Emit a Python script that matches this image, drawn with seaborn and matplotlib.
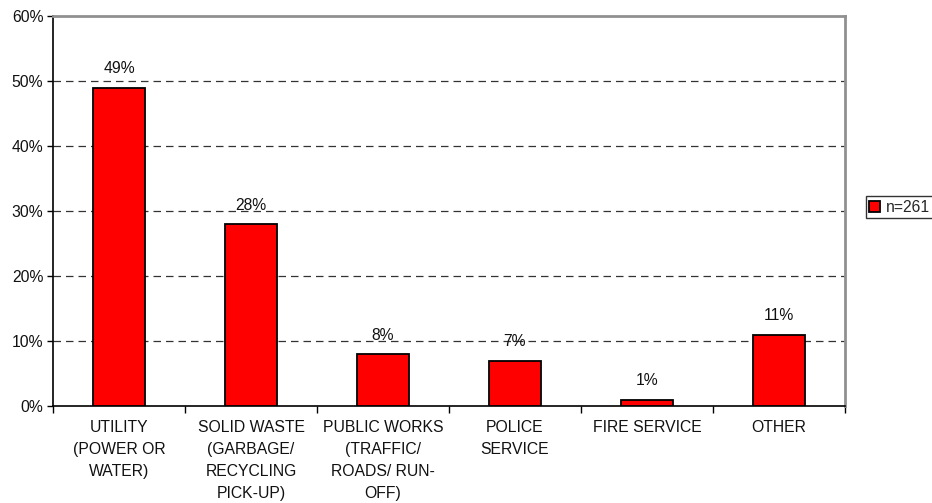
import matplotlib
matplotlib.use("Agg")
import matplotlib.pyplot as plt
import seaborn as sns
import pandas as pd
import numpy as np

categories = ["UTILITY\n(POWER OR\nWATER)", "SOLID WASTE\n(GARBAGE/\nRECYCLING\nPICK-UP)",
              "PUBLIC WORKS\n(TRAFFIC/\nROADS/ RUN-\nOFF)", "POLICE\nSERVICE", "FIRE SERVICE", "OTHER"]
values = [49, 28, 8, 7, 1, 11]
series_name = "n=261"
yticks = [0, 10, 20, 30, 40, 50, 60]

sns.set_theme(style="white")
plt.rcParams['font.family'] = ['Liberation Sans', 'DejaVu Sans']

df = pd.DataFrame({"cat": categories, "val": values, "series": series_name})

fig = plt.figure(figsize=(9.32, 5.03), dpi=100)
ax = fig.add_axes([53/932, 1-406/503, (845-53)/932, (406-16)/503])

sns.barplot(data=df, x="cat", y="val", hue="series", palette=["#ff0000"], saturation=1,
            width=0.39, edgecolor="black", linewidth=1.3, ax=ax, zorder=3)

FS = 11.3
ax.set_ylim(0, 60)
ax.set_xlim(-0.5, len(categories)-0.5)
ax.set_yticks(yticks)
ax.set_yticklabels([f"{v}%" for v in yticks], fontsize=FS, color="#111111")
ax.set_xticks(range(len(categories)))
ax.set_xticklabels(categories, fontsize=FS, color="#111111", linespacing=1.58)
ax.set_xlabel("")
ax.set_ylabel("")

for y in yticks[1:-1]:
    ax.axhline(y, color="#333333", linestyle=(0, (6, 4)), linewidth=0.9, zorder=1)

for i, v in enumerate(values):
    ax.text(i, v + 1.7, f"{v}%", ha="center", va="bottom", fontsize=FS, color="#111111")

for s in ["left", "bottom"]:
    ax.spines[s].set_color("black")
    ax.spines[s].set_linewidth(1.2)
for s in ["top", "right"]:
    ax.spines[s].set_color("#909090")
    ax.spines[s].set_linewidth(2)
    ax.spines[s].set_visible(True)

ax.tick_params(axis="y", which="both", left=True, length=4, width=1, color="black", pad=3)
ax.tick_params(axis="x", which="both", bottom=False, pad=4)
ax.set_xticks(np.arange(-0.5, len(categories), 1.0), minor=True)
ax.tick_params(axis="x", which="minor", bottom=True, length=5, width=1, color="black")

leg = ax.legend(loc="center left", bbox_to_anchor=(858/932, 1-207/503), bbox_transform=fig.transFigure,
                frameon=True, fancybox=False, fontsize=FS, handlelength=0.7, handleheight=0.7,
                borderpad=0.2, handletextpad=0.4)
leg.get_frame().set_edgecolor("black")
leg.get_frame().set_linewidth(1)

fig.savefig("out.png", dpi=100)
